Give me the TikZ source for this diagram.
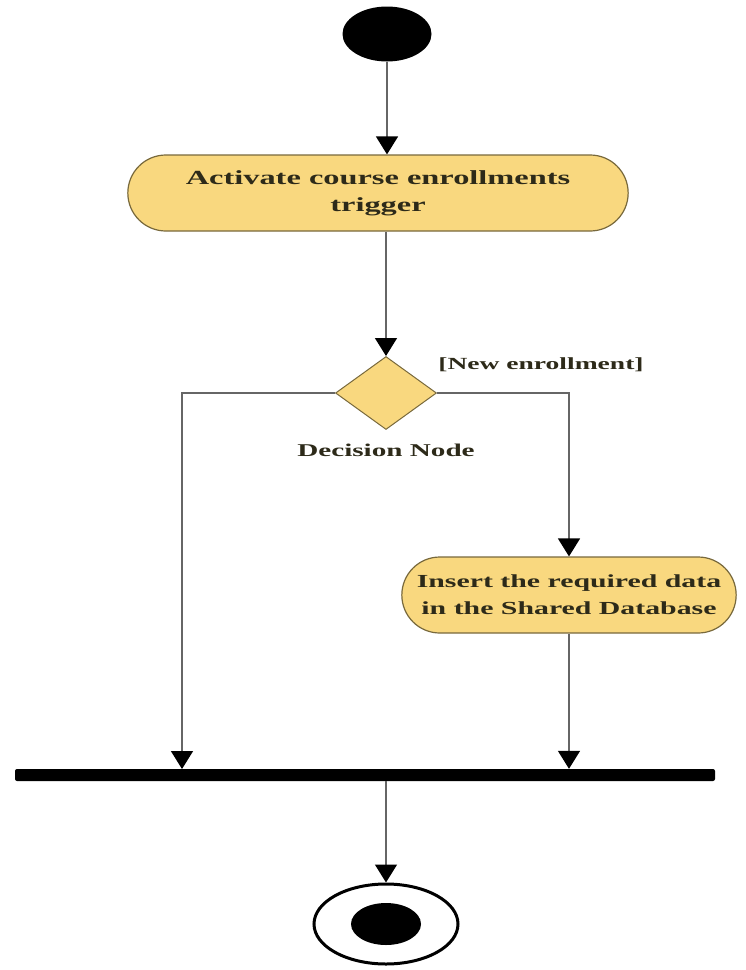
\documentclass[tikz,border=0pt]{standalone}
\usepackage{fontspec}
\setmainfont{Liberation Serif}[FakeStretch=1.62]
\usetikzlibrary{arrows.meta,shapes.geometric,shapes.misc}
\definecolor{actfill}{RGB}{249,216,127}
\definecolor{actline}{RGB}{120,105,60}
\definecolor{labtext}{RGB}{45,42,25}
\tikzstyle{action}=[rounded rectangle,draw=actline,line width=1.2pt,fill=actfill,minimum height=76pt,align=center,text=labtext,font=\bfseries\fontsize{18.4}{27}\selectfont]
\tikzstyle{decision}=[diamond,draw=actline,line width=1pt,fill=actfill,minimum width=101pt,minimum height=73pt,inner sep=0pt]
\tikzstyle{edge}=[draw,line width=1.5pt,black!60,-{Triangle[length=18pt,width=22pt,black]}]
\tikzstyle{guard}=[text=labtext,font=\bfseries\fontsize{17}{20}\selectfont]

\begin{document}
\begin{tikzpicture}[x=1pt,y=-1pt]
	\useasboundingbox (0,0) rectangle (746,970);

	% First the start, the actions and the decision
	\node[ellipse,fill=black,minimum width=89pt,minimum height=55pt,inner sep=0pt] (start) at (387,34) {};
	\node[action,minimum width=507pt,font=\bfseries\fontsize{20}{27}\selectfont] (act1) at (378,193) {Activate course enrollments\\trigger};
	\node[decision] (dec) at (386,393) {};
	\node[guard] (newlab) at (541,365) {[New enrollment]};
	\node[guard,font=\bfseries\fontsize{18}{20}\selectfont] (declab) at (386,450) {Decision Node};
	\node[action,minimum width=341pt] (act2) at (569,595) {Insert the required data\\in the Shared Database};

	% Then the join bar and the final node
	\node[fill=black,rounded corners=2pt,minimum width=700pt,minimum height=12pt,inner sep=0pt] (bar) at (365,775) {};
	\node[ellipse,draw=black,line width=3pt,fill=white,minimum width=144pt,minimum height=80pt,inner sep=0pt] (stop) at (386,924) {};
	\node[ellipse,fill=black,minimum width=70pt,minimum height=42pt,inner sep=0pt] (stopin) at (stop) {};

	\coordinate (jl) at (182,769);
	\coordinate (jr) at (act2.south |- bar.north);

	% Connect them
	\path[edge] (start) -- (start |- act1.north);
	\path[edge] (act1.south -| dec.north) -- (dec.north);
	\path[edge] (dec.west) -| (jl);
	\path[edge] (dec.east) -| (act2.north);
	\path[edge] (act2.south) -- (jr);
	\path[edge] (bar.south -| stop.north) -- (stop.north);
\end{tikzpicture}
\end{document}
